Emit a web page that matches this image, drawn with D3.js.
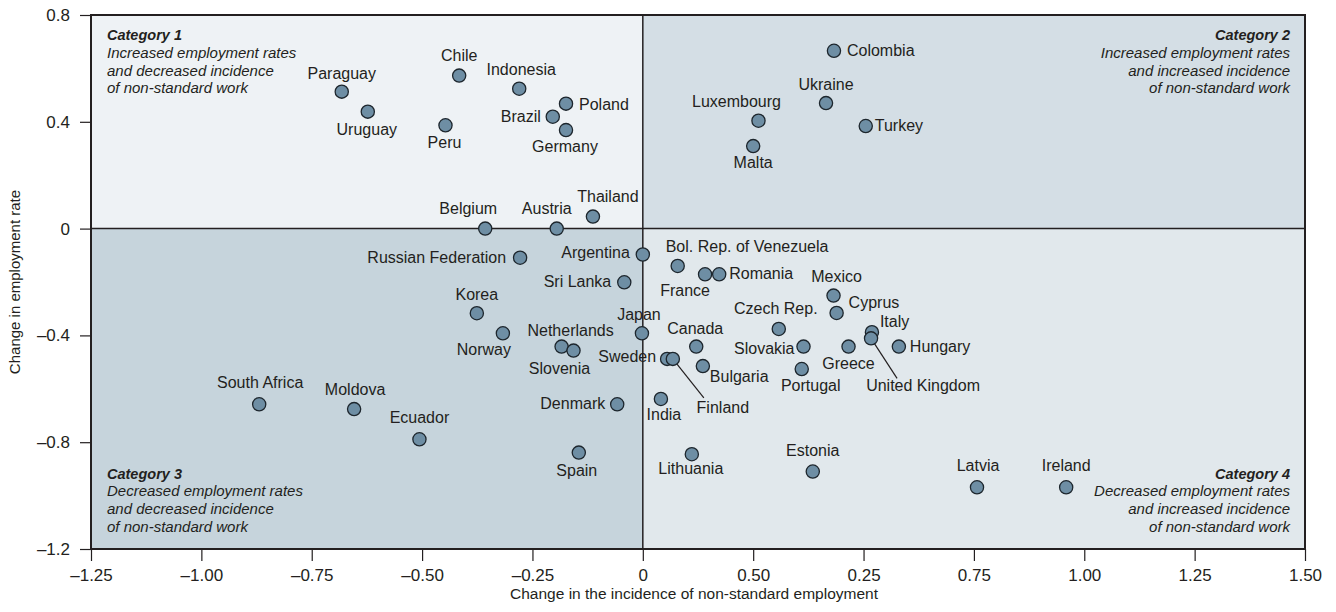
<!DOCTYPE html>
<html>
<head>
<meta charset="utf-8">
<script src="https://cdn.jsdelivr.net/npm/d3@7"></script>
<style>
  html, body { margin: 0; padding: 0; background: #fff; }
  svg { display: block; font-family: "Liberation Sans", Arial, sans-serif; }
</style>
</head>
<body>
<script>
// Employment rate change vs non-standard employment change, by country
const width = 1336;
const height = 612;

const countries = [
  "Paraguay", "Uruguay", "Chile", "Indonesia", "Poland", "Brazil", "Germany", "Peru",
  "Belgium", "Austria", "Thailand", "Colombia", "Ukraine", "Luxembourg", "Turkey", "Malta",
  "Russian Federation", "Argentina", "Sri Lanka", "Korea", "Norway", "Netherlands", "Slovenia",
  "Japan", "South Africa", "Moldova", "Denmark", "Ecuador", "Spain", "Lithuania",
  "Bol. Rep. of Venezuela", "France", "Romania", "Canada", "Sweden", "Finland", "Bulgaria",
  "India", "Czech Rep.", "Slovakia", "Portugal", "Mexico", "Cyprus", "Greece", "Italy",
  "United Kingdom", "Hungary", "Estonia", "Latvia", "Ireland"
];
// change in the incidence of non-standard employment (x)
const nonStandardChange = [
  -0.682, -0.623, -0.416, -0.280, -0.174, -0.204, -0.174, -0.447,
  -0.357, -0.195, -0.113, 0.433, 0.415, 0.262, 0.505, 0.250,
  -0.278, 0.000, -0.042, -0.376, -0.317, -0.184, -0.157,
  -0.002, -0.869, -0.654, -0.058, -0.506, -0.145, 0.111,
  0.079, 0.141, 0.173, 0.121, 0.055, 0.068, 0.136,
  0.041, 0.308, 0.364, 0.360, 0.432, 0.439, 0.466, 0.519,
  0.517, 0.580, 0.385, 0.757, 0.959
];
// change in employment rate (y)
const employmentChange = [
  0.513, 0.438, 0.573, 0.524, 0.468, 0.419, 0.369, 0.387,
  0.000, 0.000, 0.045, 0.666, 0.470, 0.404, 0.384, 0.309,
  -0.109, -0.097, -0.201, -0.317, -0.392, -0.442, -0.457,
  -0.392, -0.658, -0.676, -0.658, -0.789, -0.839, -0.845,
  -0.140, -0.171, -0.171, -0.442, -0.488, -0.488, -0.515,
  -0.638, -0.376, -0.442, -0.526, -0.251, -0.316, -0.442, -0.388,
  -0.411, -0.442, -0.910, -0.969, -0.969
];

const xTicks = [-1.25, -1, -0.75, -0.5, -0.25, 0, 0.25, 0.5, 0.75, 1, 1.25, 1.5];
// labels as printed in the original (0.50 and 0.25 appear swapped)
const xTickLabels = ["–1.25", "–1.00", "–0.75", "–0.50", "–0.25", "0", "0.50", "0.25", "0.75", "1.00", "1.25", "1.50"];
const yTicks = [0.8, 0.4, 0, -0.4, -0.8, -1.2];
const yTickLabels = ["0.8", "0.4", "0", "–0.4", "–0.8", "–1.2"];

const categoryTitles = ["Category 1", "Category 2", "Category 3", "Category 4"];
const categoryText = [
  ["Increased employment rates", "and decreased incidence", "of non-standard work"],
  ["Increased employment rates", "and increased incidence", "of non-standard work"],
  ["Decreased employment rates", "and decreased incidence", "of non-standard work"],
  ["Decreased employment rates", "and increased incidence", "of non-standard work"]
];

// label placement relative to each dot: [dx, dy, anchor]
const labelPos = {
  "Paraguay": [0, -13, "middle"], "Uruguay": [-1, 23, "middle"], "Chile": [0, -15, "middle"],
  "Indonesia": [2, -14, "middle"], "Poland": [13, 6, "start"], "Brazil": [-12, 5, "end"],
  "Germany": [-1, 22, "middle"], "Peru": [-1, 23, "middle"], "Belgium": [-17, -15, "middle"],
  "Austria": [-10, -15, "middle"], "Thailand": [15, -15, "middle"], "Colombia": [13, 5, "start"],
  "Ukraine": [0, -13, "middle"], "Luxembourg": [-22, -14, "middle"], "Turkey": [9, 5, "start"],
  "Malta": [0, 22, "middle"], "Russian Federation": [-14, 5, "end"], "Argentina": [-13, 4, "end"],
  "Sri Lanka": [-13, 5, "end"], "Korea": [0, -13, "middle"], "Norway": [-19, 22, "middle"],
  "Netherlands": [9, -11, "middle"], "Slovenia": [-14, 23, "middle"], "Japan": [-3, -13, "middle"],
  "South Africa": [1, -16, "middle"], "Moldova": [1, -14, "middle"], "Denmark": [-12, 5, "end"],
  "Ecuador": [0, -16, "middle"], "Spain": [-2, 23, "middle"], "Lithuania": [-1, 20, "middle"],
  "Bol. Rep. of Venezuela": [-12, -14, "start"], "France": [-20, 22, "middle"],
  "Romania": [10, 5, "start"], "Canada": [-1, -13, "middle"], "Sweden": [-11, 3, "end"],
  "Finland": [50, 54, "middle"], "Bulgaria": [7, 16, "start"], "India": [3, 21, "middle"],
  "Czech Rep.": [-3, -15, "middle"], "Slovakia": [-9, 7, "end"], "Portugal": [9, 22, "middle"],
  "Mexico": [3, -14, "middle"], "Cyprus": [12, -5, "start"], "Greece": [0, 22, "middle"],
  "Italy": [8, -5, "start"], "United Kingdom": [52, 53, "middle"], "Hungary": [11, 5, "start"],
  "Estonia": [0, -16, "middle"], "Latvia": [1, -16, "middle"], "Ireland": [0, -16, "middle"]
};
// leader lines end point relative to the dot
const leaders = { "Finland": [31, 39], "United Kingdom": [26, 40] };

const margin = { top: 15, right: 31, bottom: 63, left: 91 };
const x0 = margin.left, x1 = width - margin.right;
const y0 = height - margin.bottom, y1 = margin.top;

const x = d3.scaleLinear().domain([-1.25, 1.5]).range([x0, x1]);
const y = d3.scaleLinear().domain([-1.2, 0.8]).range([y0, y1]);

const svg = d3.select("body").append("svg")
    .attr("width", width)
    .attr("height", height);

const ink = "#231f20";

// quadrant backgrounds
const quads = [
  { xa: x0, xb: x(0), ya: y1, yb: y(0), fill: "#eef2f5" },
  { xa: x(0), xb: x1, ya: y1, yb: y(0), fill: "#d4dee5" },
  { xa: x0, xb: x(0), ya: y(0), yb: y0, fill: "#c6d4dc" },
  { xa: x(0), xb: x1, ya: y(0), yb: y0, fill: "#e1e8ec" }
];
svg.append("g").selectAll("rect")
  .data(quads)
  .join("rect")
    .attr("x", d => d.xa)
    .attr("y", d => d.ya)
    .attr("width", d => d.xb - d.xa)
    .attr("height", d => d.yb - d.ya)
    .attr("fill", d => d.fill);

// zero lines
svg.append("line")
    .attr("x1", x(0)).attr("x2", x(0)).attr("y1", y1).attr("y2", y0)
    .attr("stroke", ink).attr("stroke-width", 1.5);
svg.append("line")
    .attr("x1", x0).attr("x2", x1).attr("y1", y(0)).attr("y2", y(0))
    .attr("stroke", ink).attr("stroke-width", 1.5);

// axes
const xAxis = d3.axisBottom(x)
    .tickValues(xTicks)
    .tickFormat((d, i) => xTickLabels[i])
    .tickSize(12)
    .tickPadding(8);
const yAxis = d3.axisLeft(y)
    .tickValues(yTicks)
    .tickFormat((d, i) => yTickLabels[i])
    .tickSize(11)
    .tickPadding(10);

const gx = svg.append("g")
    .attr("transform", `translate(0,${y0})`)
    .call(xAxis);
const gy = svg.append("g")
    .attr("transform", `translate(${x0},0)`)
    .call(yAxis);
[gx, gy].forEach(g => {
  g.select(".domain").remove();
  g.selectAll(".tick line").attr("stroke", ink).attr("stroke-width", 1.2);
  g.selectAll(".tick text")
    .attr("fill", ink)
    .style("font-size", "17px")
    .style("font-family", "'Liberation Sans', Arial, sans-serif");
});

// plot frame
svg.append("rect")
    .attr("x", x0).attr("y", y1)
    .attr("width", x1 - x0).attr("height", y0 - y1)
    .attr("fill", "none")
    .attr("stroke", ink)
    .attr("stroke-width", 2);

// axis titles
svg.append("text")
    .attr("x", 694)
    .attr("y", height - 13)
    .attr("text-anchor", "middle")
    .attr("fill", ink)
    .style("font-size", "15.5px")
    .text("Change in the incidence of non-standard employment");
svg.append("text")
    .attr("transform", `translate(20,${(y0 + y1) / 2}) rotate(-90)`)
    .attr("text-anchor", "middle")
    .attr("fill", ink)
    .style("font-size", "15px")
    .text("Change in employment rate");

// category notes in the corners
const lineGap = 17.8;
const corner = [
  { x: x0 + 16, top: true, anchor: "start" },
  { x: x1 - 15, top: true, anchor: "end" },
  { x: x0 + 16, top: false, anchor: "start" },
  { x: x1 - 15, top: false, anchor: "end" }
];
corner.forEach((c, i) => {
  const base = c.top ? y1 + 25 : y0 - 17 - 3 * lineGap;
  const t = svg.append("text")
      .attr("text-anchor", c.anchor)
      .attr("fill", ink)
      .style("font-style", "italic");
  t.append("tspan")
      .attr("x", c.x).attr("y", base)
      .style("font-weight", "bold")
      .style("font-size", "14.5px")
      .text(categoryTitles[i]);
  categoryText[i].forEach((line, j) => {
    t.append("tspan")
        .attr("x", c.x).attr("y", base + (j + 1) * lineGap)
        .style("font-size", "15px")
        .text(line);
  });
});

const points = countries.map((name, i) => ({
  name,
  px: x(nonStandardChange[i]),
  py: y(employmentChange[i])
}));

// leader lines
svg.append("g").selectAll("line")
  .data(points.filter(d => leaders[d.name]))
  .join("line")
    .attr("x1", d => d.px)
    .attr("y1", d => d.py)
    .attr("x2", d => d.px + leaders[d.name][0])
    .attr("y2", d => d.py + leaders[d.name][1])
    .attr("stroke", ink)
    .attr("stroke-width", 1.2);

// dots
svg.append("g").selectAll("circle")
  .data(points)
  .join("circle")
    .attr("cx", d => d.px)
    .attr("cy", d => d.py)
    .attr("r", 6.6)
    .attr("fill", "#6e8ea4")
    .attr("stroke", "#1d262d")
    .attr("stroke-width", 1.3);

// country labels
svg.append("g").selectAll("text")
  .data(points)
  .join("text")
    .attr("x", d => d.px + labelPos[d.name][0])
    .attr("y", d => d.py + labelPos[d.name][1])
    .attr("text-anchor", d => labelPos[d.name][2])
    .attr("fill", ink)
    .style("font-size", "16px")
    .text(d => d.name);
</script>
</body>
</html>
